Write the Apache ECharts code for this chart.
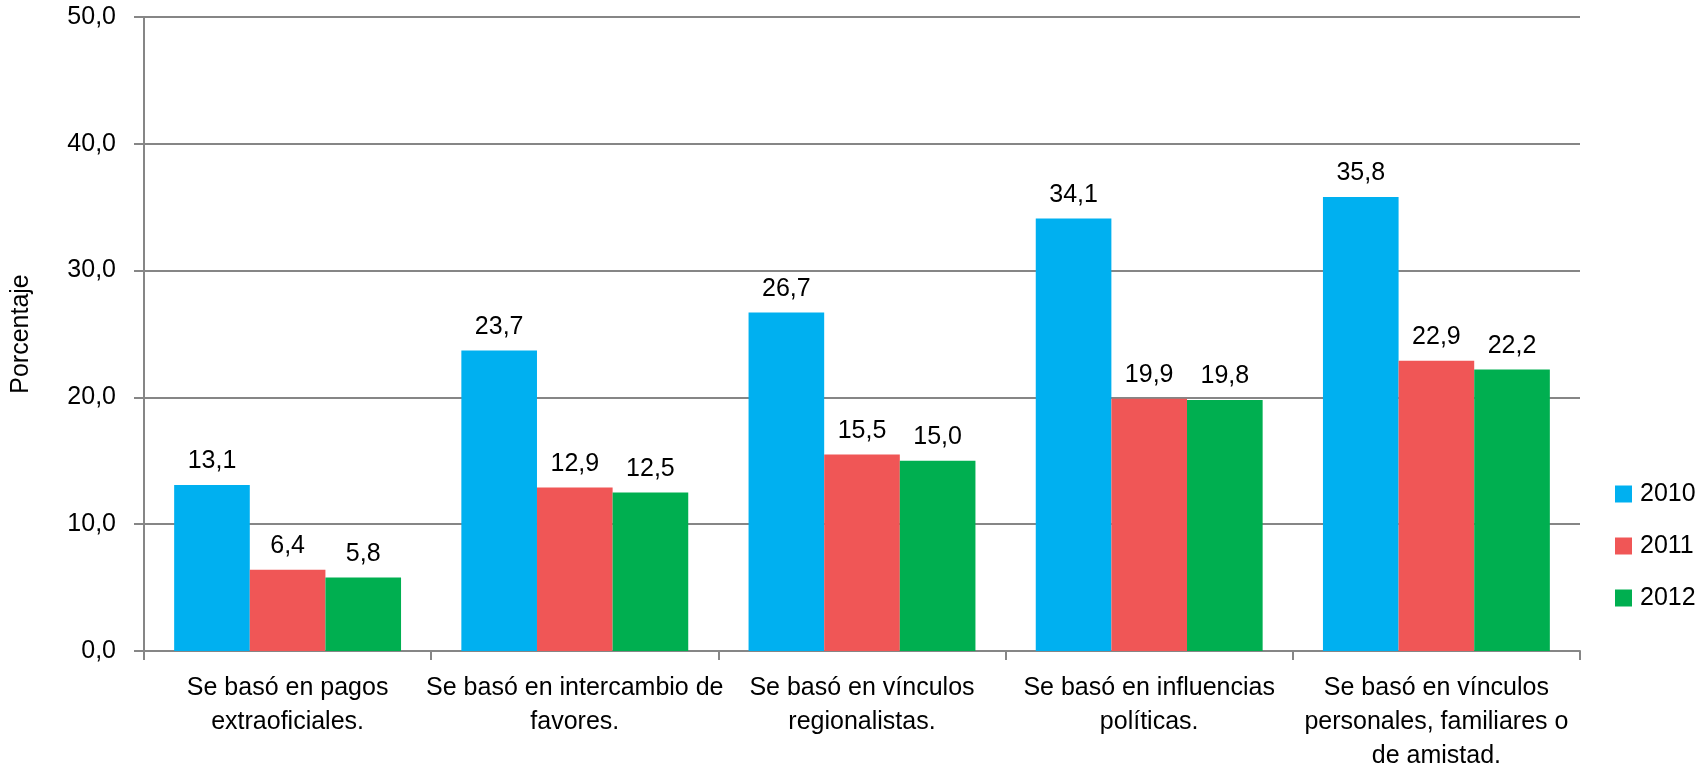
<!DOCTYPE html>
<html>
<head>
<meta charset="utf-8">
<script src="https://cdn.jsdelivr.net/npm/echarts@6/dist/echarts.min.js"></script>
<style>
  html, body { margin: 0; padding: 0; background: #fff; }
  #chart { width: 1700px; height: 764px; }
</style>
</head>
<body>
<div id="chart"></div>
<script>
var categories = [
  "Se basó en pagos\nextraoficiales.",
  "Se basó en intercambio de\nfavores.",
  "Se basó en vínculos\nregionalistas.",
  "Se basó en influencias\npolíticas.",
  "Se basó en vínculos\npersonales, familiares o\nde amistad."
];
var years = ["2010", "2011", "2012"];
var data2010 = [13.1, 23.7, 26.7, 34.1, 35.8];
var data2011 = [6.4, 12.9, 15.5, 19.9, 22.9];
var data2012 = [5.8, 12.5, 15.0, 19.8, 22.2];
var colors = ["#00B0F0", "#F05656", "#00AF50"];

var font = "'Liberation Sans', Arial, sans-serif";
var fs = 25;
var fmt = function (v) { return v.toFixed(1).replace(".", ","); };

var chart = echarts.init(document.getElementById("chart"));

function makeSeries(name, values, color) {
  return {
    name: name,
    type: "bar",
    data: values,
    barGap: 0,
    barCategoryGap: "21%",
    itemStyle: { color: color },
    label: {
      show: true,
      position: "top",
      distance: 11,
      color: "#000",
      fontFamily: font,
      fontSize: fs,
      formatter: function (p) { return fmt(p.value); }
    }
  };
}

var options = {
  animation: false,
  color: colors,
  textStyle: { fontFamily: font },
  grid: { left: 144, right: 120, top: 17, bottom: 113, containLabel: false, outerBoundsMode: "none" },
  legend: {
    orient: "vertical",
    left: 1610,
    top: 474,
    itemWidth: 17,
    itemHeight: 17,
    itemGap: 22,
    icon: "rect",
    textStyle: { color: "#000", fontFamily: font, fontSize: fs, lineHeight: 30, padding: [0, 0, 0, 3] },
    data: years
  },
  xAxis: {
    type: "category",
    data: categories,
    axisLine: { lineStyle: { color: "#868686", width: 2 } },
    axisTick: { show: true, length: 9, lineStyle: { color: "#868686", width: 2 } },
    axisLabel: {
      color: "#000",
      fontFamily: font,
      fontSize: fs,
      lineHeight: 34,
      margin: 20,
      interval: 0
    }
  },
  yAxis: {
    type: "value",
    min: 0,
    max: 50,
    interval: 10,
    name: "Porcentaje",
    nameLocation: "middle",
    nameGap: 110,
    nameRotate: 90,
    nameTextStyle: { color: "#000", fontFamily: font, fontSize: fs },
    axisLine: { show: true, lineStyle: { color: "#868686", width: 2 } },
    axisTick: { show: true, length: 10, lineStyle: { color: "#868686", width: 2 } },
    splitLine: { show: true, lineStyle: { color: "#868686", width: 2 } },
    axisLabel: {
      color: "#000",
      fontFamily: font,
      fontSize: fs,
      margin: 28,
      formatter: function (v) { return fmt(v); }
    }
  },
  series: [
    makeSeries(years[0], data2010, colors[0]),
    makeSeries(years[1], data2011, colors[1]),
    makeSeries(years[2], data2012, colors[2])
  ]
};

chart.setOption(options, true);
</script>
</body>
</html>
